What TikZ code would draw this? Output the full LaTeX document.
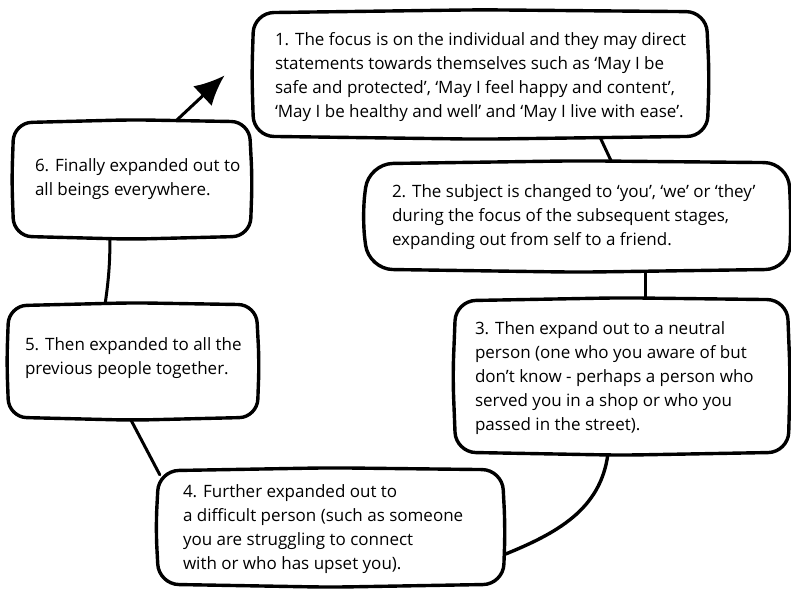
\documentclass[tikz,border=0pt]{standalone}
\usepackage{fontspec}
\setmainfont{Open Sans}
\usetikzlibrary{arrows.meta}

\tikzset{
  boxshape/.style={rectangle, draw=none, inner sep=0pt},
  outline/.style={draw=black, line width=3.4pt, line join=round, fill=white},
  boxtext/.style={anchor=west, align=left, inner sep=0pt,
    font=\fontsize{17}{24}\selectfont},
  link/.style={draw=black, line width=3pt, line cap=round},
}

% hand-drawn looking rounded box around a named node:
% #1 node name, #2 corner radius, #3 bulge of the left side
\newcommand\sketchbox[3]{%
  \draw[outline, rounded corners=#2]
    ([shift={(0,2)}]#1.north)
    -- ([shift={(-1,0)}]#1.north east)
    -- ([shift={(2,0)}]#1.east)
    -- ([shift={(0,1)}]#1.south east)
    -- ([shift={(0,-2)}]#1.south)
    -- ([shift={(1,1)}]#1.south west)
    -- ([shift={(-#3,0)}]#1.west)
    -- ([shift={(1,-1)}]#1.north west)
    -- cycle;}

\begin{document}
\begin{tikzpicture}[x=1pt, y=1pt]
  \fill[white] (0,0) rectangle (791,591);
  \useasboundingbox (0,0) rectangle (791,591);

  % box frames
  \node[boxshape, minimum width=454pt, minimum height=125pt] (b1) at (480,516.5) {};
  \node[boxshape, minimum width=421pt, minimum height=107pt] (b2) at (578.5,374.5) {};
  \node[boxshape, minimum width=333pt, minimum height=153pt] (b3) at (621.5,214.5) {};
  \node[boxshape, minimum width=345pt, minimum height=115pt] (b4) at (330.5,63.5) {};
  \node[boxshape, minimum width=249pt, minimum height=113pt] (b5) at (132.5,229.5) {};
  \node[boxshape, minimum width=237pt, minimum height=115pt] (b6) at (131.5,411.5) {};

  % connectors
  \draw[link] ([xshift=120]b1.south) -- ([xshift=33.5]b2.north);
  \draw[link] ([xshift=66.5]b2.south) -- ([xshift=23.5]b3.north);
  \draw[link, line width=3.4pt] ([xshift=-13.5]b3.south) to[out=-97, in=22] ([yshift=-27.5]b4.east);
  \draw[link] ([shift={(2,-5)}]b4.north west) -- ([xshift=-2.5]b5.south);
  \draw[link] ([xshift=-27.5]b5.north) to[bend right=4] ([xshift=-21.5]b6.south);
  \coordinate (tip) at (224.5,515.5);
  \draw[link, -{Latex[length=30pt, width=27pt]}] ([xshift=43.5]b6.north) -- (tip);

  % outlines
  \sketchbox{b1}{20pt}{1}
  \sketchbox{b2}{24pt}{6}
  \sketchbox{b3}{20pt}{2}
  \sketchbox{b4}{20pt}{2}
  \sketchbox{b5}{18pt}{1}
  \sketchbox{b6}{18pt}{1}

  % texts
  \node[boxtext] (t1) at ([shift={(22,-3)}]b1.west)
    {1. The focus is on the individual and they may direct\\
     statements towards themselves such as `May I be\\
     safe and protected', `May I feel happy and content',\\
     `May I be healthy and well' and `May I live with ease'.};
  \node[boxtext] (t2) at ([shift={(24,-1)}]b2.west)
    {2. The subject is changed to `you', `we' or `they'\\
     during the focus of the subsequent stages,\\
     expanding out from self to a friend.};
  \node[boxtext] (t3) at ([shift={(20,-2)}]b3.west)
    {3. Then expand out to a neutral\\
     person (one who you aware of but\\
     don't know - perhaps a person who\\
     served you in a shop or who you\\
     passed in the street).};
  \node[boxtext] (t4) at ([shift={(25,-2)}]b4.west)
    {4. Further expanded out to\\
     a difficult person (such as someone\\
     you are struggling to connect\\
     with or who has upset you).};
  \node[boxtext] (t5) at ([shift={(17,3)}]b5.west)
    {5. Then expanded to all the\\
     previous people together.};
  \node[boxtext] (t6) at ([xshift=22]b6.west)
    {6. Finally expanded out to\\
     all beings everywhere.};
\end{tikzpicture}
\end{document}
